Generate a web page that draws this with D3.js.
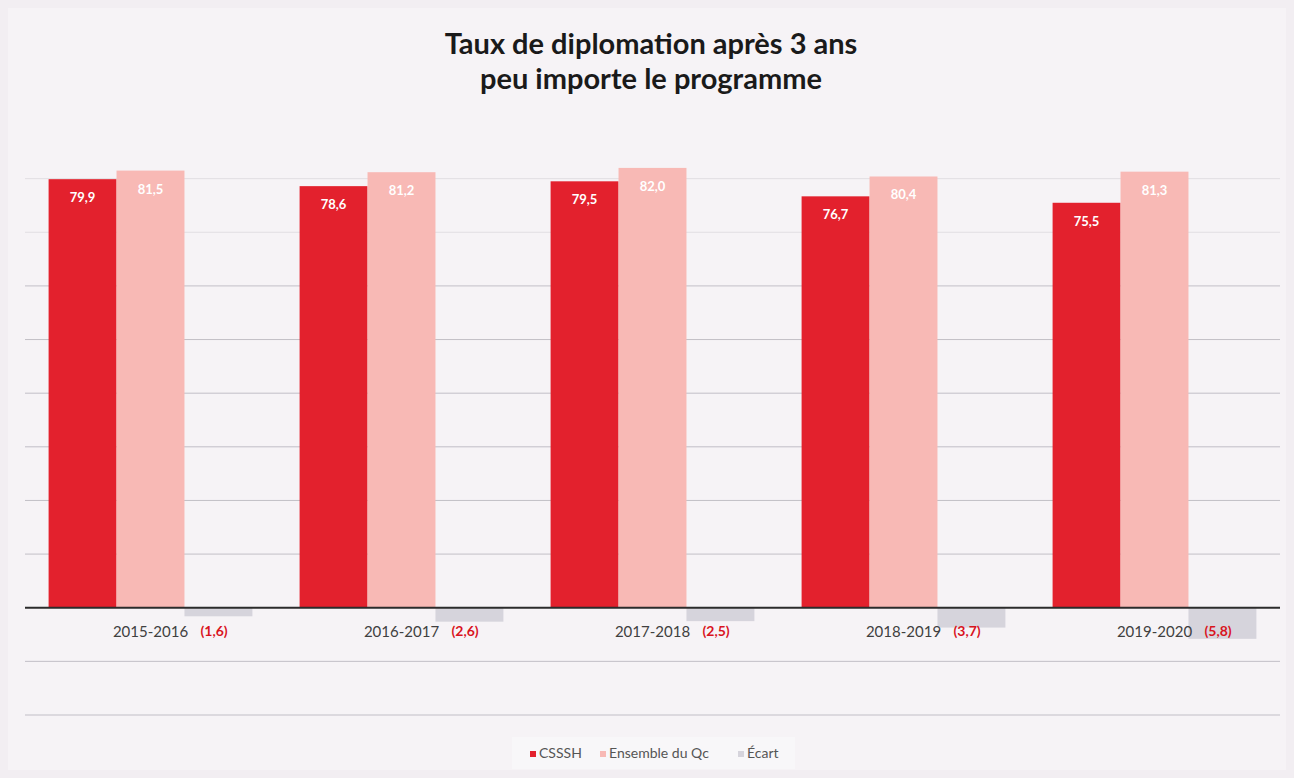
<!DOCTYPE html>
<html>
<head>
<meta charset="utf-8">
<script src="https://cdn.jsdelivr.net/npm/d3@7"></script>
<style>
  body { margin: 0; background: #f2eef2; }
  svg { display: block; }
</style>
</head>
<body>
<div id="viz"></div>
<script>
'use strict';

const years = ['2015-2016', '2016-2017', '2017-2018', '2018-2019', '2019-2020'];
const csssh = [79.9, 78.6, 79.5, 76.7, 75.5];
const ensembleQc = [81.5, 81.2, 82.0, 80.4, 81.3];
const ecart = [-1.6, -2.6, -2.5, -3.7, -5.8];
const gridTicks = [-20, -10, 10, 20, 30, 40, 50, 60, 70, 80];
const seriesNames = ['CSSSH', 'Ensemble du Qc', 'Écart'];
const colors = ['#e3212d', '#f8b9b5', '#d6d4dc'];

const W = 1294, H = 778;
const margin = { top: 125, right: 14, bottom: 63, left: 25 };
const width = W - margin.left - margin.right;
const height = H - margin.top - margin.bottom;

const svg = d3.select('#viz').append('svg')
    .attr('width', W)
    .attr('height', H);

// fond
svg.append('rect').attr('width', W).attr('height', H).attr('fill', '#f2eef2');
svg.append('rect').attr('x', 8).attr('y', 8).attr('width', W - 16).attr('height', H - 16)
    .attr('fill', '#f6f3f6');

const g = svg.append('g').attr('transform', `translate(${margin.left},${margin.top})`);

const x0 = d3.scaleBand().domain(years).range([0, width]).paddingInner(0.188).paddingOuter(0.094);
const x1 = d3.scaleBand().domain(seriesNames).range([0, x0.bandwidth()]);
const y = d3.scaleLinear().domain([-20, 90]).range([height, 0]);

// Grille
g.append('g')
    .selectAll('line')
    .data(gridTicks)
    .join('line')
    .attr('x1', 0)
    .attr('x2', width)
    .attr('y1', d => y(d))
    .attr('y2', d => y(d))
    .attr('stroke', '#bdbac2')
    .attr('stroke-width', 1)
    .attr('opacity', d => d > 60 ? 0.35 : 0.9);

const data = years.map((yr, i) => ({
    year: yr,
    values: [csssh[i], ensembleQc[i], ecart[i]]
}));

const groups = g.selectAll('.grp')
    .data(data)
    .join('g')
    .attr('class', 'grp')
    .attr('transform', d => `translate(${x0(d.year)},0)`);

groups.selectAll('rect')
    .data(d => d.values.map((v, j) => ({ name: seriesNames[j], v: v, j: j })))
    .join('rect')
    .attr('x', d => x1(d.name))
    .attr('width', x1.bandwidth())
    .attr('y', d => y(Math.max(0, d.v)))
    .attr('height', d => Math.abs(y(d.v) - y(0)))
    .attr('fill', d => colors[d.j]);

// valeurs dans les barres
groups.selectAll('.val')
    .data(d => d.values.slice(0, 2).map((v, j) => ({ name: seriesNames[j], v: v })))
    .join('text')
    .attr('class', 'val')
    .attr('x', d => x1(d.name) + x1.bandwidth() / 2)
    .attr('y', d => y(d.v) + 23)
    .attr('text-anchor', 'middle')
    .attr('fill', '#ffffff')
    .attr('font-family', 'Lato, "Open Sans", sans-serif')
    .attr('font-weight', 'bold')
    .attr('font-size', '13px')
    .text(d => d3.format('.1f')(d.v).replace('.', ','));

// axe zéro
g.append('line')
    .attr('x1', 0).attr('x2', width)
    .attr('y1', y(0)).attr('y2', y(0))
    .attr('stroke', '#2b2b2b')
    .attr('stroke-width', 2);

// étiquettes de catégories
g.selectAll('.cat')
    .data(years)
    .join('text')
    .attr('class', 'cat')
    .attr('x', d => x0(d) + x0.bandwidth() / 2)
    .attr('y', y(0) + 29)
    .attr('text-anchor', 'middle')
    .attr('fill', '#404040')
    .attr('font-family', 'Lato, "Open Sans", sans-serif')
    .attr('font-size', '15px')
    .text(d => d);

// écarts en rouge
g.selectAll('.ecart')
    .data(data)
    .join('text')
    .attr('class', 'ecart')
    .attr('x', d => x0(d.year) + x1('Écart') + 16)
    .attr('y', y(0) + 28)
    .attr('fill', '#d9141e')
    .attr('font-family', 'Lato, "Open Sans", sans-serif')
    .attr('font-weight', 'bold')
    .attr('font-size', '14px')
    .text(d => '(' + d3.format('.1f')(-d.values[2]).replace('.', ',') + ')');

// Titre
const title = svg.append('text')
    .attr('text-anchor', 'middle')
    .attr('fill', '#1a1a1a')
    .attr('font-family', 'Lato, "Open Sans", sans-serif')
    .attr('font-weight', 'bold')
    .attr('font-size', '29px');
title.append('tspan').attr('x', 651).attr('y', 54).text('Taux de diplomation après 3 ans');
title.append('tspan').attr('x', 651).attr('y', 89).text('peu importe le programme');

// Légende
const legend = svg.append('g').attr('transform', 'translate(512,737)');
legend.append('rect')
    .attr('width', 283).attr('height', 32)
    .attr('fill', '#f8f7f9');
const legendX = [18, 88, 226];
const items = legend.selectAll('.item')
    .data(seriesNames)
    .join('g')
    .attr('class', 'item')
    .attr('transform', (d, i) => `translate(${legendX[i]},0)`);
items.append('rect')
    .attr('y', 14).attr('width', 6).attr('height', 6)
    .attr('fill', (d, i) => colors[i]);
items.append('text')
    .attr('x', 9).attr('y', 21)
    .attr('fill', '#555555')
    .attr('font-family', 'Lato, "Open Sans", sans-serif')
    .attr('font-size', '14px')
    .text(d => d);
</script>
</body>
</html>
